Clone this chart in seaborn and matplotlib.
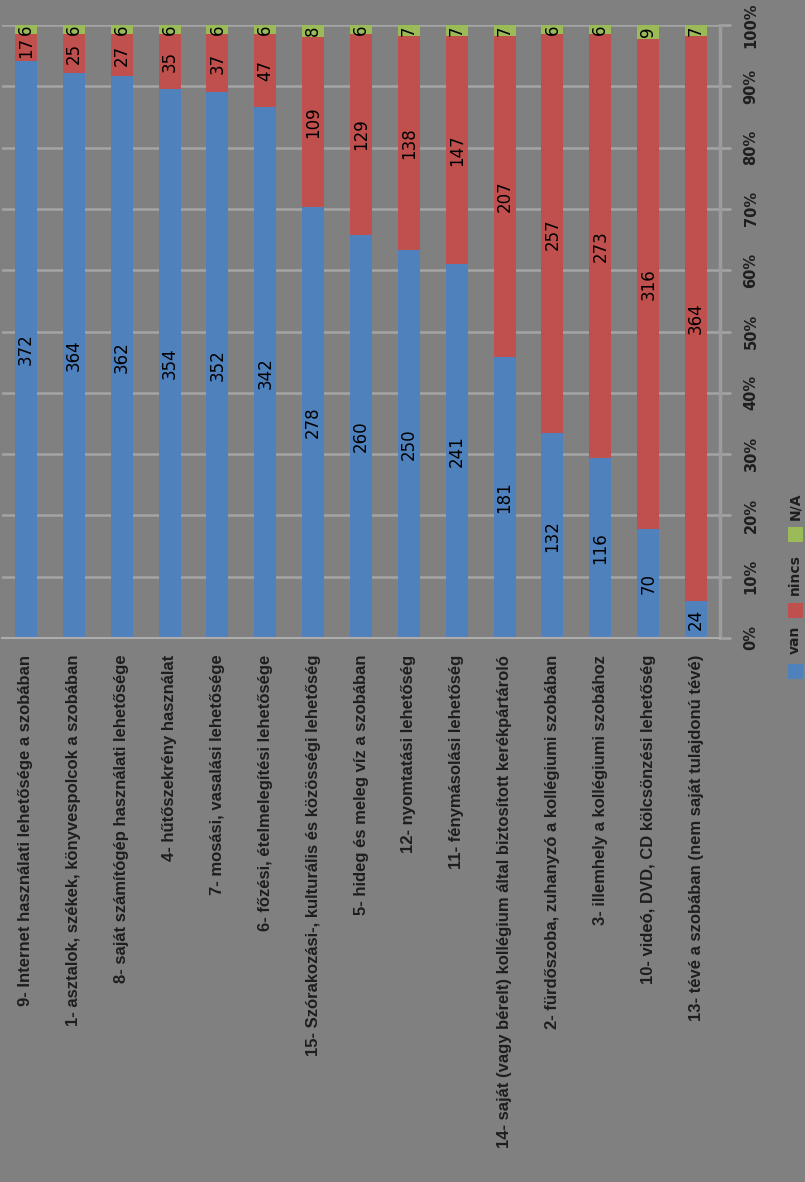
import matplotlib
matplotlib.use("Agg")
import matplotlib.pyplot as plt
import matplotlib.patches as mpatches
import numpy as np
import pandas as pd
import seaborn as sns

CATEGORIES = [
    "9- Internet használati lehetősége a szobában",
    "1- asztalok, székek, könyvespolcok a szobában",
    "8- saját számítógép használati lehetősége",
    "4- hűtőszekrény használat",
    "7- mosási, vasalási lehetősége",
    "6- főzési, ételmelegítési lehetősége",
    "15- Szórakozási-, kulturális és közösségi lehetőség",
    "5- hideg és meleg víz a szobában",
    "12- nyomtatási lehetőség",
    "11- fénymásolási lehetőség",
    "14- saját (vagy bérelt) kollégium által biztosított kerékpártároló",
    "2- fürdőszoba, zuhanyzó a kollégiumi szobában",
    "3- illemhely a kollégiumi szobához",
    "10- videó, DVD, CD kölcsönzési lehetőség",
    "13- tévé a szobában (nem saját tulajdonú tévé)",
]
VAN = [372, 364, 362, 354, 352, 342, 278, 260, 250, 241, 181, 132, 116, 70, 24]
NINCS = [17, 25, 27, 35, 37, 47, 109, 129, 138, 147, 207, 257, 273, 316, 364]
NA = [6, 6, 6, 6, 6, 6, 8, 6, 7, 7, 7, 6, 6, 9, 7]
SERIES = ["van", "nincs", "N/A"]
PCT_TICKS = list(range(0, 101, 10))

PALETTE = {"van": "#4F81BD", "nincs": "#C0504D", "N/A": "#9BBB59"}
BG = "#808080"
GRID = "#a4a4a4"

sns.set_theme(style="white")
plt.rcParams["font.family"] = ["DejaVu Sans"]

df = pd.DataFrame({"kategoria": CATEGORIES, "van": VAN, "nincs": NINCS, "N/A": NA})
total = df[SERIES].sum(axis=1)
for s in SERIES:
    df[s + "_pct"] = df[s] / total * 100
# stacked tops, drawn back to front
df["top_N/A"] = df["van_pct"] + df["nincs_pct"] + df["N/A_pct"]
df["top_nincs"] = df["van_pct"] + df["nincs_pct"]
df["top_van"] = df["van_pct"]

W, H = 805, 1182
fig = plt.figure(figsize=(W / 100, H / 100), dpi=100, facecolor=BG)
ax = fig.add_axes([2 / W, 544 / H, 718 / W, 613 / H])
ax.set_facecolor(BG)
ax.set_axisbelow(True)

for s in ["N/A", "nincs", "van"]:
    sns.barplot(data=df, x="kategoria", y=f"top_{s}", order=CATEGORIES, color=PALETTE[s],
                saturation=1, width=0.46, linewidth=0, errorbar=None, ax=ax)

# data labels, centered in each segment
for i, row in df.iterrows():
    bottom = 0
    for s in SERIES:
        h = row[s + "_pct"]
        ax.text(i, bottom + h / 2, f"{row[s]}", rotation=90, ha="center", va="center",
                fontsize=12, color="black")
        bottom += h

ax.set_xlim(-0.5, len(CATEGORIES) - 0.5)
ax.set_ylim(0, 100)
ax.set_xlabel("")
ax.set_ylabel("")

ax.yaxis.grid(True, color=GRID, linewidth=1.8)
ax.xaxis.grid(False)
for side in ["top", "left"]:
    ax.spines[side].set_visible(False)
ax.spines["right"].set_color("#9c9c9c")
ax.spines["right"].set_linewidth(2.5)
ax.spines["bottom"].set_color("#acacac")
ax.spines["bottom"].set_linewidth(1.5)

# category labels below, rotated
ax.set_xticks(range(len(CATEGORIES)))
ax.set_xticklabels(CATEGORIES, rotation=90, fontsize=12, fontweight="bold",
                   family=["Liberation Sans", "DejaVu Sans"], color="#1e1e1e")
ax.set_xticks(np.arange(-0.5, len(CATEGORIES), 1), minor=True)
ax.tick_params(axis="x", which="major", length=0, pad=12)
ax.tick_params(axis="x", which="minor", length=4, width=1.5, color="#acacac", direction="out")

# percent axis on the right
ax.yaxis.tick_right()
ax.set_yticks(PCT_TICKS)
ax.set_yticklabels([f"{t}%" for t in PCT_TICKS])
ax.tick_params(axis="y", length=8, width=1.8, color=GRID, pad=9, labelsize=10.5,
               labelcolor="#1e1e1e")
for lab in ax.get_yticklabels():
    lab.set_rotation(90)
    lab.set_va("center")
    lab.set_ha("left")
    lab.set_fontweight("bold")

# legend, stacked vertically at the right edge
leg_items = [("van", 671), ("nincs", 610), ("N/A", 535)]
text_y = {"van": 640, "nincs": 575, "N/A": 506}
for name, yc in leg_items:
    fig.patches.append(mpatches.Rectangle(((795 - 7.5) / W, 1 - (yc + 7.5) / H), 15 / W, 15 / H,
                                          transform=fig.transFigure, facecolor=PALETTE[name],
                                          edgecolor="none"))
    fig.text(795 / W, 1 - text_y[name] / H, name, rotation=90, ha="center", va="center",
             fontsize=10, fontweight="bold", color="#1e1e1e")

fig.savefig("out.png", dpi=100, facecolor=BG)
plt.close(fig)
